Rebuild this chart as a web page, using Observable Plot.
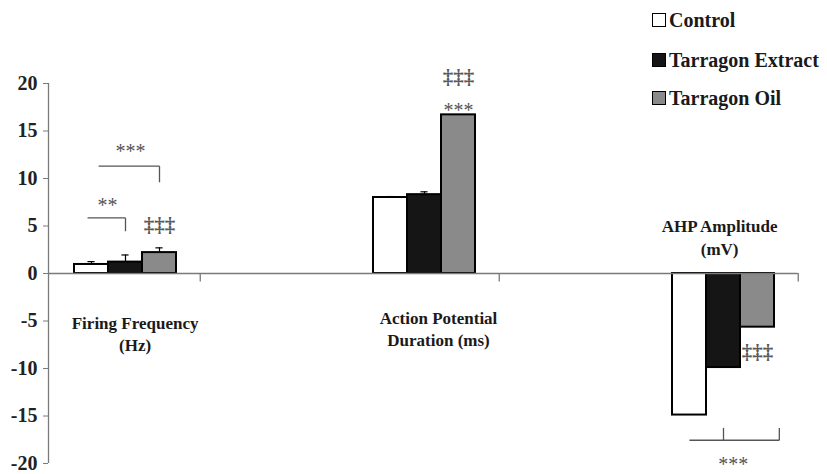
<!DOCTYPE html>
<html><head><meta charset="utf-8">
<script src="https://cdn.jsdelivr.net/npm/d3@7"></script>
<script src="https://cdn.jsdelivr.net/npm/@observablehq/plot@0.6"></script>
<style>
html,body{margin:0;padding:0;background:#fff;}
#wrap{position:relative;width:827px;height:474px;font-family:"Liberation Serif","Tinos","Noto Serif","DejaVu Serif",serif;}
.leg{position:absolute;left:652px;display:flex;align-items:center;font-weight:bold;font-size:20px;color:#1a1a1a;line-height:1;white-space:nowrap;}
.sw{width:14px;height:14px;border:1.6px solid #000;margin-right:3px;box-sizing:border-box;}
svg text{font-family:"Liberation Serif","Tinos","Noto Serif","DejaVu Serif",serif;}
</style></head><body><div id="wrap"></div>
<script>
// ---- data ----
const categories = ["Firing Frequency\n(Hz)", "Action Potential\nDuration (ms)", "AHP Amplitude\n(mV)"];
const series = ["Control", "Tarragon Extract", "Tarragon Oil"];
const seriesColors = ["#ffffff", "#151515", "#8a8a8a"];
const controlValues = [0.95, 8.0, -14.9];
const extractValues = [1.2, 8.3, -9.9];
const oilValues = [2.2, 16.7, -5.65];
const controlErrors = [0.3, 0.1, 0];
const extractErrors = [0.75, 0.3, 0];
const oilErrors = [0.5, 0, 0];
const yTicks = [-20, -15, -10, -5, 0, 5, 10, 15, 20];

// ---- layout helpers (scale units: one category = 1) ----
const bw = 34 / 299;                 // bar width in category units
const xDomain = [-77 / 299, 702 / 299];
const seriesValues = [controlValues, extractValues, oilValues];
const seriesErrors = [controlErrors, extractErrors, oilErrors];

const bars = [];
categories.forEach((c, i) => {
  series.forEach((s, j) => {
    const x1 = i + (j - 1.5) * bw;
    bars.push({cat: c, i, series: s, j, x1, x2: x1 + bw, xc: x1 + bw / 2,
      value: seriesValues[j][i], err: seriesErrors[j][i], fill: seriesColors[j]});
  });
});
const errBars = bars.filter(d => d.err > 0);
const catTicks = categories.map((c, i) => i + 0.25);
const center = (i, j) => i + (j - 1) * bw;   // bar centre

// significance annotations
const bracketSegs = [
  {x1: center(0,1) - 0.127, y1: 5.85, x2: center(0,1), y2: 5.85},
  {x1: center(0,1), y1: 5.85, x2: center(0,1), y2: 4.45},
  {x1: center(0,1) - 0.09, y1: 11.3, x2: center(0,2), y2: 11.3},
  {x1: center(0,2), y1: 11.3, x2: center(0,2), y2: 9.6},
  {x1: center(2,1) - 0.114, y1: -17.55, x2: center(2,2) + 0.073, y2: -17.55},
  {x1: center(2,1), y1: -17.55, x2: center(2,1), y2: -16.25},
  {x1: center(2,2) + 0.073, y1: -17.55, x2: center(2,2) + 0.073, y2: -16.25}
];
const starTexts = [
  {x: center(0,1) - 0.06, y: 7.6, t: "**"},
  {x: center(0,1) + 0.017, y: 13.3, t: "***"},
  {x: center(1,2), y: 17.6, t: "***"},
  {x: center(2,1) + 0.033, y: -19.7, t: "***"}
];
const daggerTexts = [
  {x: center(0,2), y: 5.1, t: "‡‡‡"},
  {x: center(1,2), y: 20.7, t: "‡‡‡"},
  {x: center(2,2), y: -8.25, t: "‡‡‡"}
];
const catLabels = [
  {x: 0.032, y: -6.23, t: categories[0]},
  {x: 1.047, y: -5.7, t: categories[1]},
  {x: 1.987, y: 3.98, t: categories[2]}
];

const axisGray = "#7a7a7a";
const annGray = "#555";
const serifStack = "'Liberation Serif','Tinos','Noto Serif','DejaVu Serif',serif";

const chart = Plot.plot({
  width: 827,
  height: 474,
  marginLeft: 48,
  marginRight: 0,
  marginTop: 83,
  marginBottom: 11,
  style: {fontFamily: serifStack, fontWeight: "bold", background: "#fff", overflow: "visible"},
  x: {type: "linear", domain: xDomain, axis: null},
  y: {domain: [-20, 20], axis: null},
  marks: [
    // bars
    Plot.rect(bars, {x1: "x1", x2: "x2", y1: 0, y2: "value", fill: "fill", stroke: "#000", strokeWidth: 2}),
    // error bars
    Plot.ruleX(errBars, {x: "xc", y1: "value", y2: d => d.value + d.err, stroke: "#000", strokeWidth: 1.2}),
    Plot.ruleY(errBars, {y: d => d.value + d.err, x1: d => d.xc - 0.012, x2: d => d.xc + 0.012, stroke: "#000", strokeWidth: 1.2}),
    // axes
    Plot.ruleX([xDomain[0]], {y1: -20, y2: 20, stroke: axisGray, strokeWidth: 1.3}),
    Plot.ruleY([0], {x1: xDomain[0], x2: catTicks[2], stroke: axisGray, strokeWidth: 1.3}),
    Plot.ruleX(catTicks, {y1: 0, y2: -0.9, stroke: axisGray, strokeWidth: 1.3}),
    Plot.axisY({ticks: yTicks, tickSize: 5, tickPadding: 6, fontSize: 20, stroke: axisGray, fill: "#222", tickFormat: d => String(d), label: null}),
    // category labels
    Plot.text(catLabels, {x: "x", y: "y", text: "t", fontSize: 17, lineHeight: 1.35, fill: "#1a1a1a"}),
    // significance
    Plot.link(bracketSegs, {x1: "x1", y1: "y1", x2: "x2", y2: "y2", stroke: annGray, strokeWidth: 1.3}),
    Plot.text(starTexts, {x: "x", y: "y", text: "t", fontSize: 20, fontWeight: "normal", fill: annGray, dy: 4}),
    Plot.text(daggerTexts, {x: "x", y: "y", text: "t", fontSize: 21, fontWeight: "bold", fill: "#5a5a5a"})
  ]
});

const wrap = document.getElementById("wrap");
chart.style.position = "absolute";
chart.style.left = "0";
chart.style.top = "0";
wrap.appendChild(chart);

// legend
const legendTops = [10, 50, 88];
series.forEach((s, j) => {
  const item = document.createElement("div");
  item.className = "leg";
  item.style.top = legendTops[j] + "px";
  const sw = document.createElement("div");
  sw.className = "sw";
  sw.style.background = seriesColors[j];
  item.appendChild(sw);
  const lab = document.createElement("span");
  lab.textContent = s;
  item.appendChild(lab);
  wrap.appendChild(item);
});
</script>
</body></html>
